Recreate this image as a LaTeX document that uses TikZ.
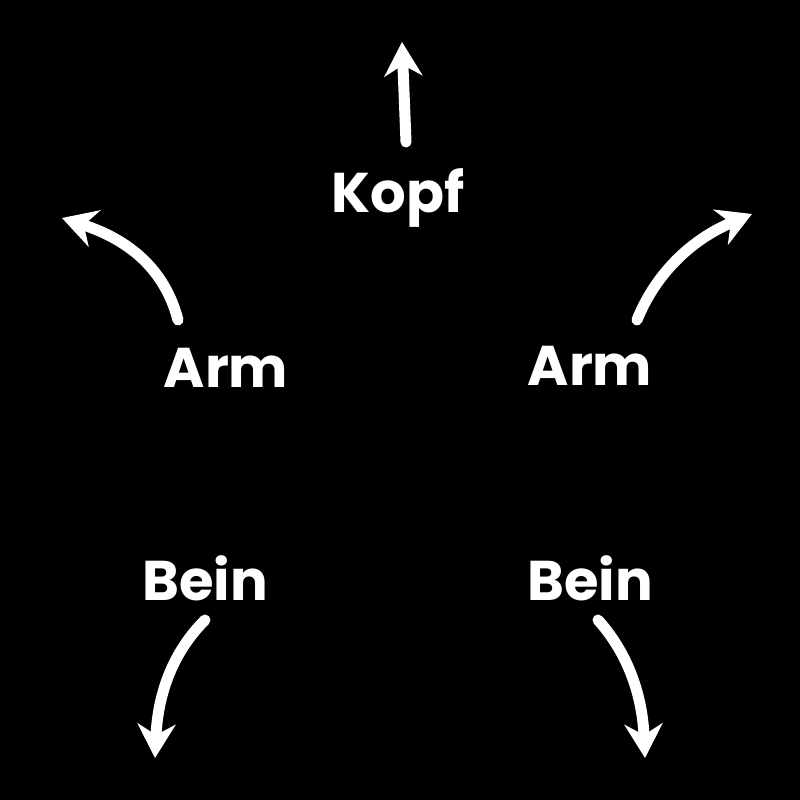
\documentclass[tikz,border=0pt]{standalone}
\usepackage{fontspec}
\setmainfont{Poppins}
\usetikzlibrary{arrows.meta}
\begin{document}
\begin{tikzpicture}[x=1pt,y=-1pt,
  lbl/.style={text=white,font=\fontsize{56}{60}\selectfont\bfseries,inner sep=0pt},
  arr/.style={draw=white,line width=11pt,line cap=round,-{Stealth[length=34pt,width=38pt]}}]
\fill[black] (0,0) rectangle (800,800);
\useasboundingbox (0,0) rectangle (800,800);
\node[lbl] (kopf) at (398,198) {Kopf};
\node[lbl] (arml) at (226,368) {Arm};
\node[lbl] (armr) at (590,366) {Arm};
\node[lbl] (beinl) at (205,578) {Bein};
\node[lbl] (beinr) at (590,578) {Bein};
\coordinate (k0) at (406,142); \coordinate (k1) at (402,42);
\coordinate (al0) at (178,320); \coordinate (al1) at (62,218);
\coordinate (ar0) at (637,320); \coordinate (ar1) at (752,214);
\coordinate (bl0) at (205,620); \coordinate (bl1) at (155,758);
\coordinate (br0) at (598,620); \coordinate (br1) at (645,758);
\draw[arr] (k0) -- (k1);
\draw[arr] (al0) .. controls (165,270) and (130,240) .. (al1);
\draw[arr] (ar0) .. controls (655,275) and (690,240) .. (ar1);
\draw[arr] (bl0) .. controls (175,650) and (158,690) .. (bl1);
\draw[arr] (br0) .. controls (625,650) and (642,690) .. (br1);
\end{tikzpicture}
\end{document}
